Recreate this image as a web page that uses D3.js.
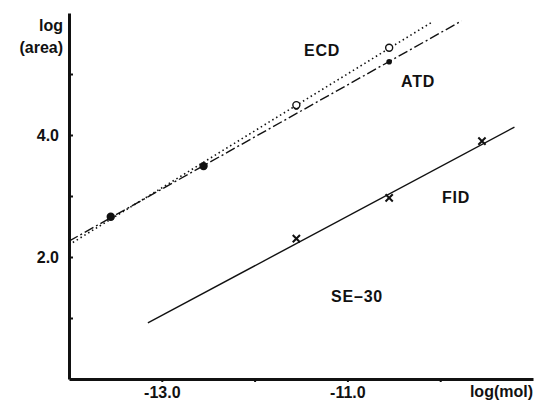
<!DOCTYPE html>
<html lang="en">
<head>
<meta charset="UTF-8">
<title>log(area) vs log(mol)</title>
<script src="https://cdn.jsdelivr.net/npm/d3@7"></script>
<style>
    body { margin: 0; background: #fff; }
    text { font-family: "Liberation Sans", Arial, sans-serif; font-weight: bold; fill: #111; }
</style>
</head>
<body>
<svg width="539" height="401"></svg>
<script>
// measured points (log mol, log area)
var ecdX = [-13.55, -12.55, -11.55, -10.55];
var ecdY = [2.66, 3.49, 4.49, 5.43];
var atdX = [-13.55, -12.55, -11.55, -10.55];
var atdY = [2.66, 3.49, 4.46, 5.20];
var fidX = [-11.55, -10.55, -9.55];
var fidY = [2.30, 2.97, 3.90];

// fitted lines, start and end
var ecdLine = [[-14.0, 2.20], [-10.1, 5.84]];
var atdLine = [[-14.0, 2.26], [-9.77, 5.87]];
var fidLine = [[-13.15, 0.92], [-9.2, 4.13]];

var xTicks = [-13, -12, -11, -10];
var xTickLabels = ["-13.0", "", "-11.0", ""];
var yTicks = [1, 2, 3, 4, 5];
var yTickLabels = ["", "2.0", "", "4.0", ""];

var svg = d3.select("svg");

var x = d3.scaleLinear().domain([-14, -9]).range([69, 533]);
var y = d3.scaleLinear().domain([0, 6]).range([379, 13]);

//Axes
var yAxis = d3.axisLeft(y)
    .tickValues(yTicks)
    .tickSizeInner(-4)
    .tickSizeOuter(0)
    .tickPadding(10)
    .tickFormat(function(d, i) { return yTickLabels[i]; });

svg.append("g")
    .attr("transform", "translate(69,0)")
    .call(yAxis)
    .call(function(g) {
        g.select(".domain").attr("stroke-width", 3).attr("stroke", "#111");
        g.selectAll(".tick line").attr("stroke-width", 2).attr("stroke", "#111");
        g.selectAll(".tick text").attr("font-size", 16).attr("font-family", null);
    });

var xAxis = d3.axisBottom(x)
    .tickValues(xTicks)
    .tickSizeInner(3)
    .tickSizeOuter(0)
    .tickPadding(5)
    .tickFormat(function(d, i) { return xTickLabels[i]; });

svg.append("g")
    .attr("transform", "translate(0,379)")
    .call(xAxis)
    .call(function(g) {
        g.select(".domain").attr("stroke-width", 3).attr("stroke", "#111");
        g.selectAll(".tick line").attr("stroke-width", 2).attr("stroke", "#111");
        g.selectAll(".tick text").attr("font-size", 16).attr("font-family", null);
    });

// axis titles
svg.append("text").attr("x", 63).attr("y", 31).attr("text-anchor", "end")
    .attr("font-size", 16).text("log");
svg.append("text").attr("x", 63).attr("y", 53).attr("text-anchor", "end")
    .attr("font-size", 16).text("(area)");
svg.append("text").attr("x", 533).attr("y", 397).attr("text-anchor", "end")
    .attr("font-size", 16).text("log(mol)");

//Lines
var line = d3.line()
    .x(function(d) { return x(d[0]); })
    .y(function(d) { return y(d[1]); });

svg.append("path").attr("d", line(ecdLine))
    .attr("fill", "none").attr("stroke", "#111").attr("stroke-width", 1.6)
    .attr("stroke-dasharray", "1.5,3");
svg.append("path").attr("d", line(atdLine))
    .attr("fill", "none").attr("stroke", "#111").attr("stroke-width", 1.4)
    .attr("stroke-dasharray", "10,3,2,3");
svg.append("path").attr("d", line(fidLine))
    .attr("fill", "none").attr("stroke", "#111").attr("stroke-width", 1.4);

//Markers
svg.selectAll("circle.atd")
    .data(d3.zip(atdX, atdY))
    .join("circle")
    .attr("class", "atd")
    .attr("cx", function(d) { return x(d[0]); })
    .attr("cy", function(d) { return y(d[1]); })
    .attr("r", 2.8)
    .attr("fill", "#111");

svg.selectAll("circle.ecd")
    .data(d3.zip(ecdX, ecdY))
    .join("circle")
    .attr("class", "ecd")
    .attr("cx", function(d) { return x(d[0]); })
    .attr("cy", function(d) { return y(d[1]); })
    .attr("r", 3.5)
    .attr("fill", function(d, i) { return i < 2 ? "#111" : "#fff"; })
    .attr("stroke", "#111")
    .attr("stroke-width", 1.4);

var cross = d3.symbol().type(d3.symbolX).size(36);
svg.selectAll("path.fid")
    .data(d3.zip(fidX, fidY))
    .join("path")
    .attr("class", "fid")
    .attr("d", cross)
    .attr("transform", function(d) { return "translate(" + x(d[0]) + "," + y(d[1]) + ")"; })
    .attr("stroke", "#111")
    .attr("stroke-width", 2);

//Labels
var labels = [["ECD", 304, 56], ["ATD", 401, 87], ["FID", 442, 203], ["SE\u201330", 331, 302]];
svg.selectAll("text.lbl")
    .data(labels)
    .join("text")
    .attr("class", "lbl")
    .attr("x", function(d) { return d[1]; })
    .attr("y", function(d) { return d[2]; })
    .attr("font-size", 16)
    .attr("letter-spacing", 0.8)
    .text(function(d) { return d[0]; });
</script>
</body>
</html>
